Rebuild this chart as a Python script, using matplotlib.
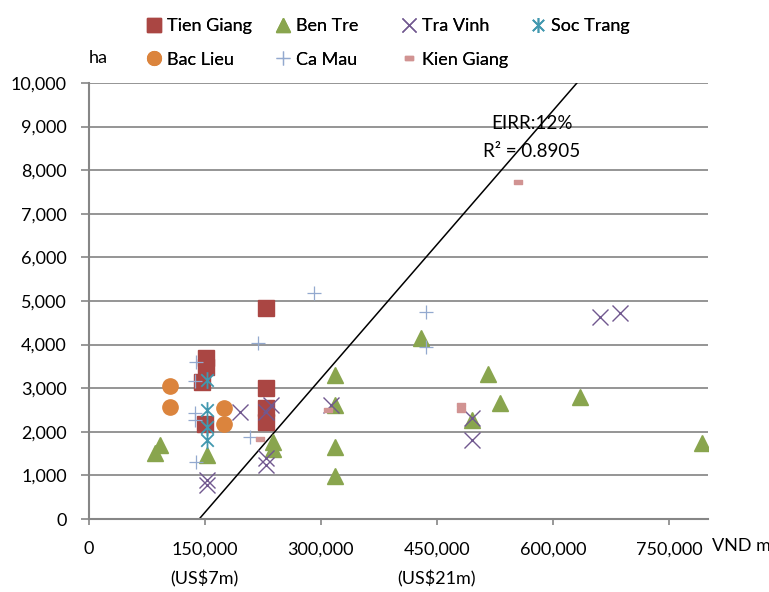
import matplotlib
matplotlib.use("Agg")
import matplotlib.pyplot as plt
from matplotlib.path import Path

plt.rcParams['font.family'] = ['Lato', 'DejaVu Sans']

# Investment (VND million) vs. area (ha) by province
tien_giang_x = [152000, 152000, 146000, 150000, 229000, 229000, 229000, 229000]
tien_giang_y = [3690, 3490, 3150, 2170, 4830, 3000, 2540, 2230]

ben_tre_x = [86000, 92000, 153000, 239000, 239000, 318000, 318000, 318000, 318000,
             430000, 496000, 516000, 532000, 635000, 793000]
ben_tre_y = [1510, 1700, 1470, 1760, 1600, 3300, 2610, 1660, 990,
             4140, 2270, 3320, 2650, 2800, 1740]

tra_vinh_x = [153000, 153000, 196000, 229000, 236000, 229000, 229000, 313000,
              496000, 496000, 661000, 687000]
tra_vinh_y = [900, 780, 2460, 2460, 2610, 1400, 1250, 2610, 2310, 1810, 4640, 4720]

soc_trang_x = [153000, 153000, 153000, 153000]
soc_trang_y = [3190, 2500, 2100, 1820]

bac_lieu_x = [105000, 105000, 175000, 175000]
bac_lieu_y = [3050, 2580, 2540, 2190]

ca_mau_x = [219000, 139000, 138000, 138000, 138000, 139000, 209000, 291000, 436000, 436000]
ca_mau_y = [4030, 3590, 3170, 2420, 2260, 1310, 1870, 5190, 4750, 3950]

kien_giang_x = [222000, 309000, 555000, 481000, 481000]
kien_giang_y = [1830, 2500, 7720, 2610, 2500]

# EIRR 12% threshold line
eirr_x = [143000, 631000]
eirr_y = [0, 10000]

x_ticks = [0, 150000, 300000, 450000, 600000, 750000]
x_tick_labels = ['0', '150,000', '300,000', '450,000', '600,000', '750,000']
y_ticks = list(range(0, 10001, 1000))
y_tick_labels = [f'{v:,}' for v in y_ticks]

usd_notes_x = [150000, 450000]
usd_notes = ['(US$7m)', '(US$21m)']

# custom markers
star_marker = Path([(-0.75, -0.75), (0.75, 0.75), (-0.75, 0.75), (0.75, -0.75), (0, -1), (0, 1)],
                   [Path.MOVETO, Path.LINETO, Path.MOVETO, Path.LINETO, Path.MOVETO, Path.LINETO])
dash_marker = Path([(-1, -0.5), (1, -0.5), (1, 0.5), (-1, 0.5), (-1, -0.5)],
                   [Path.MOVETO, Path.LINETO, Path.LINETO, Path.LINETO, Path.CLOSEPOLY])

styles = {
    'Tien Giang': dict(marker='s', ms=11, color='#AA4643', mec='#AA4643'),
    'Ben Tre': dict(marker='^', ms=11, color='#89A54E', mec='#89A54E'),
    'Tra Vinh': dict(marker='x', ms=11, color='#71588F', mew=1.0),
    'Soc Trang': dict(marker=star_marker, ms=12, color='#4198AF', mew=1.3, mfc='none'),
    'Bac Lieu': dict(marker='o', ms=11, color='#DB843D', mec='#DB843D'),
    'Ca Mau': dict(marker='+', ms=10.5, color='#93A9CF', mew=0.9),
    'Kien Giang': dict(marker=dash_marker, ms=6.3, color='#D19392', mec='#D19392'),
}
series = {
    'Tien Giang': (tien_giang_x, tien_giang_y),
    'Ben Tre': (ben_tre_x, ben_tre_y),
    'Tra Vinh': (tra_vinh_x, tra_vinh_y),
    'Soc Trang': (soc_trang_x, soc_trang_y),
    'Bac Lieu': (bac_lieu_x, bac_lieu_y),
    'Ca Mau': (ca_mau_x, ca_mau_y),
    'Kien Giang': (kien_giang_x, kien_giang_y),
}

fig = plt.figure(figsize=(7.69, 5.92), dpi=100)
ax = fig.add_axes([0.1151, 0.1233, 0.8052, 0.7365])

grid_color = '#8C8C8C'
axis_color = '#868686'

handles = {}
for i, (name, (xs, ys)) in enumerate(series.items()):
    st = styles[name]
    h, = ax.plot(xs, ys, linestyle='none', zorder=3 + i * 0.01, **st)
    handles[name] = h

ax.plot(eirr_x, eirr_y, color='black', lw=1.1, zorder=2.5)

ax.text(573000, 9076, 'EIRR:12%', ha='center', va='center', fontsize=13.5, zorder=4)
ax.text(573000, 8424, 'R² = 0.8905', ha='center', va='center', fontsize=13.5, zorder=4)

ax.set_xlim(0, 800000)
ax.set_ylim(0, 10000)
ax.set_xticks(x_ticks)
ax.set_xticklabels(x_tick_labels, fontsize=13)
ax.set_yticks(y_ticks)
ax.set_yticklabels(y_tick_labels, fontsize=13)

ax.yaxis.grid(True, color=grid_color, lw=1.3)
ax.set_axisbelow(True)
for side in ('top', 'right'):
    ax.spines[side].set_visible(False)
for side in ('left', 'bottom'):
    ax.spines[side].set_color(axis_color)
    ax.spines[side].set_linewidth(1.5)
ax.tick_params(axis='y', direction='out', length=5.5, width=1.2, color=axis_color, pad=10)
ax.tick_params(axis='x', direction='out', length=4, width=1.2, color=axis_color, pad=12)

for xv, note in zip(usd_notes_x, usd_notes):
    ax.annotate(note, xy=(xv, 0), xycoords=('data', 'axes fraction'),
                xytext=(0, -60), textcoords='offset pixels',
                ha='center', va='center', fontsize=13)

ax.annotate('VND m', xy=(1, 0), xycoords='axes fraction', xytext=(4, -27),
            textcoords='offset pixels', ha='left', va='center', fontsize=13)
ax.annotate('ha', xy=(0, 1), xycoords='axes fraction', xytext=(10, 25),
            textcoords='offset pixels', ha='center', va='center', fontsize=13)

# legend laid out as four columns, two rows
legend_cols = [
    (['Tien Giang', 'Bac Lieu'], 146.5),
    (['Ben Tre', 'Ca Mau'], 275.5),
    (['Tra Vinh', 'Kien Giang'], 401.5),
    (['Soc Trang'], 530.5),
]
W, H = 769, 592
for names, left_px in legend_cols:
    leg = fig.legend([handles[n] for n in names], names, loc='upper left',
                     bbox_to_anchor=(left_px / W, 1 - 18 / H), bbox_transform=fig.transFigure,
                     frameon=False, borderpad=0, borderaxespad=0, handlelength=0.8,
                     handletextpad=0.35, labelspacing=0.97, fontsize=13, markerscale=0.9)
    fig.add_artist(leg)

fig.savefig('out.png', dpi=100)
